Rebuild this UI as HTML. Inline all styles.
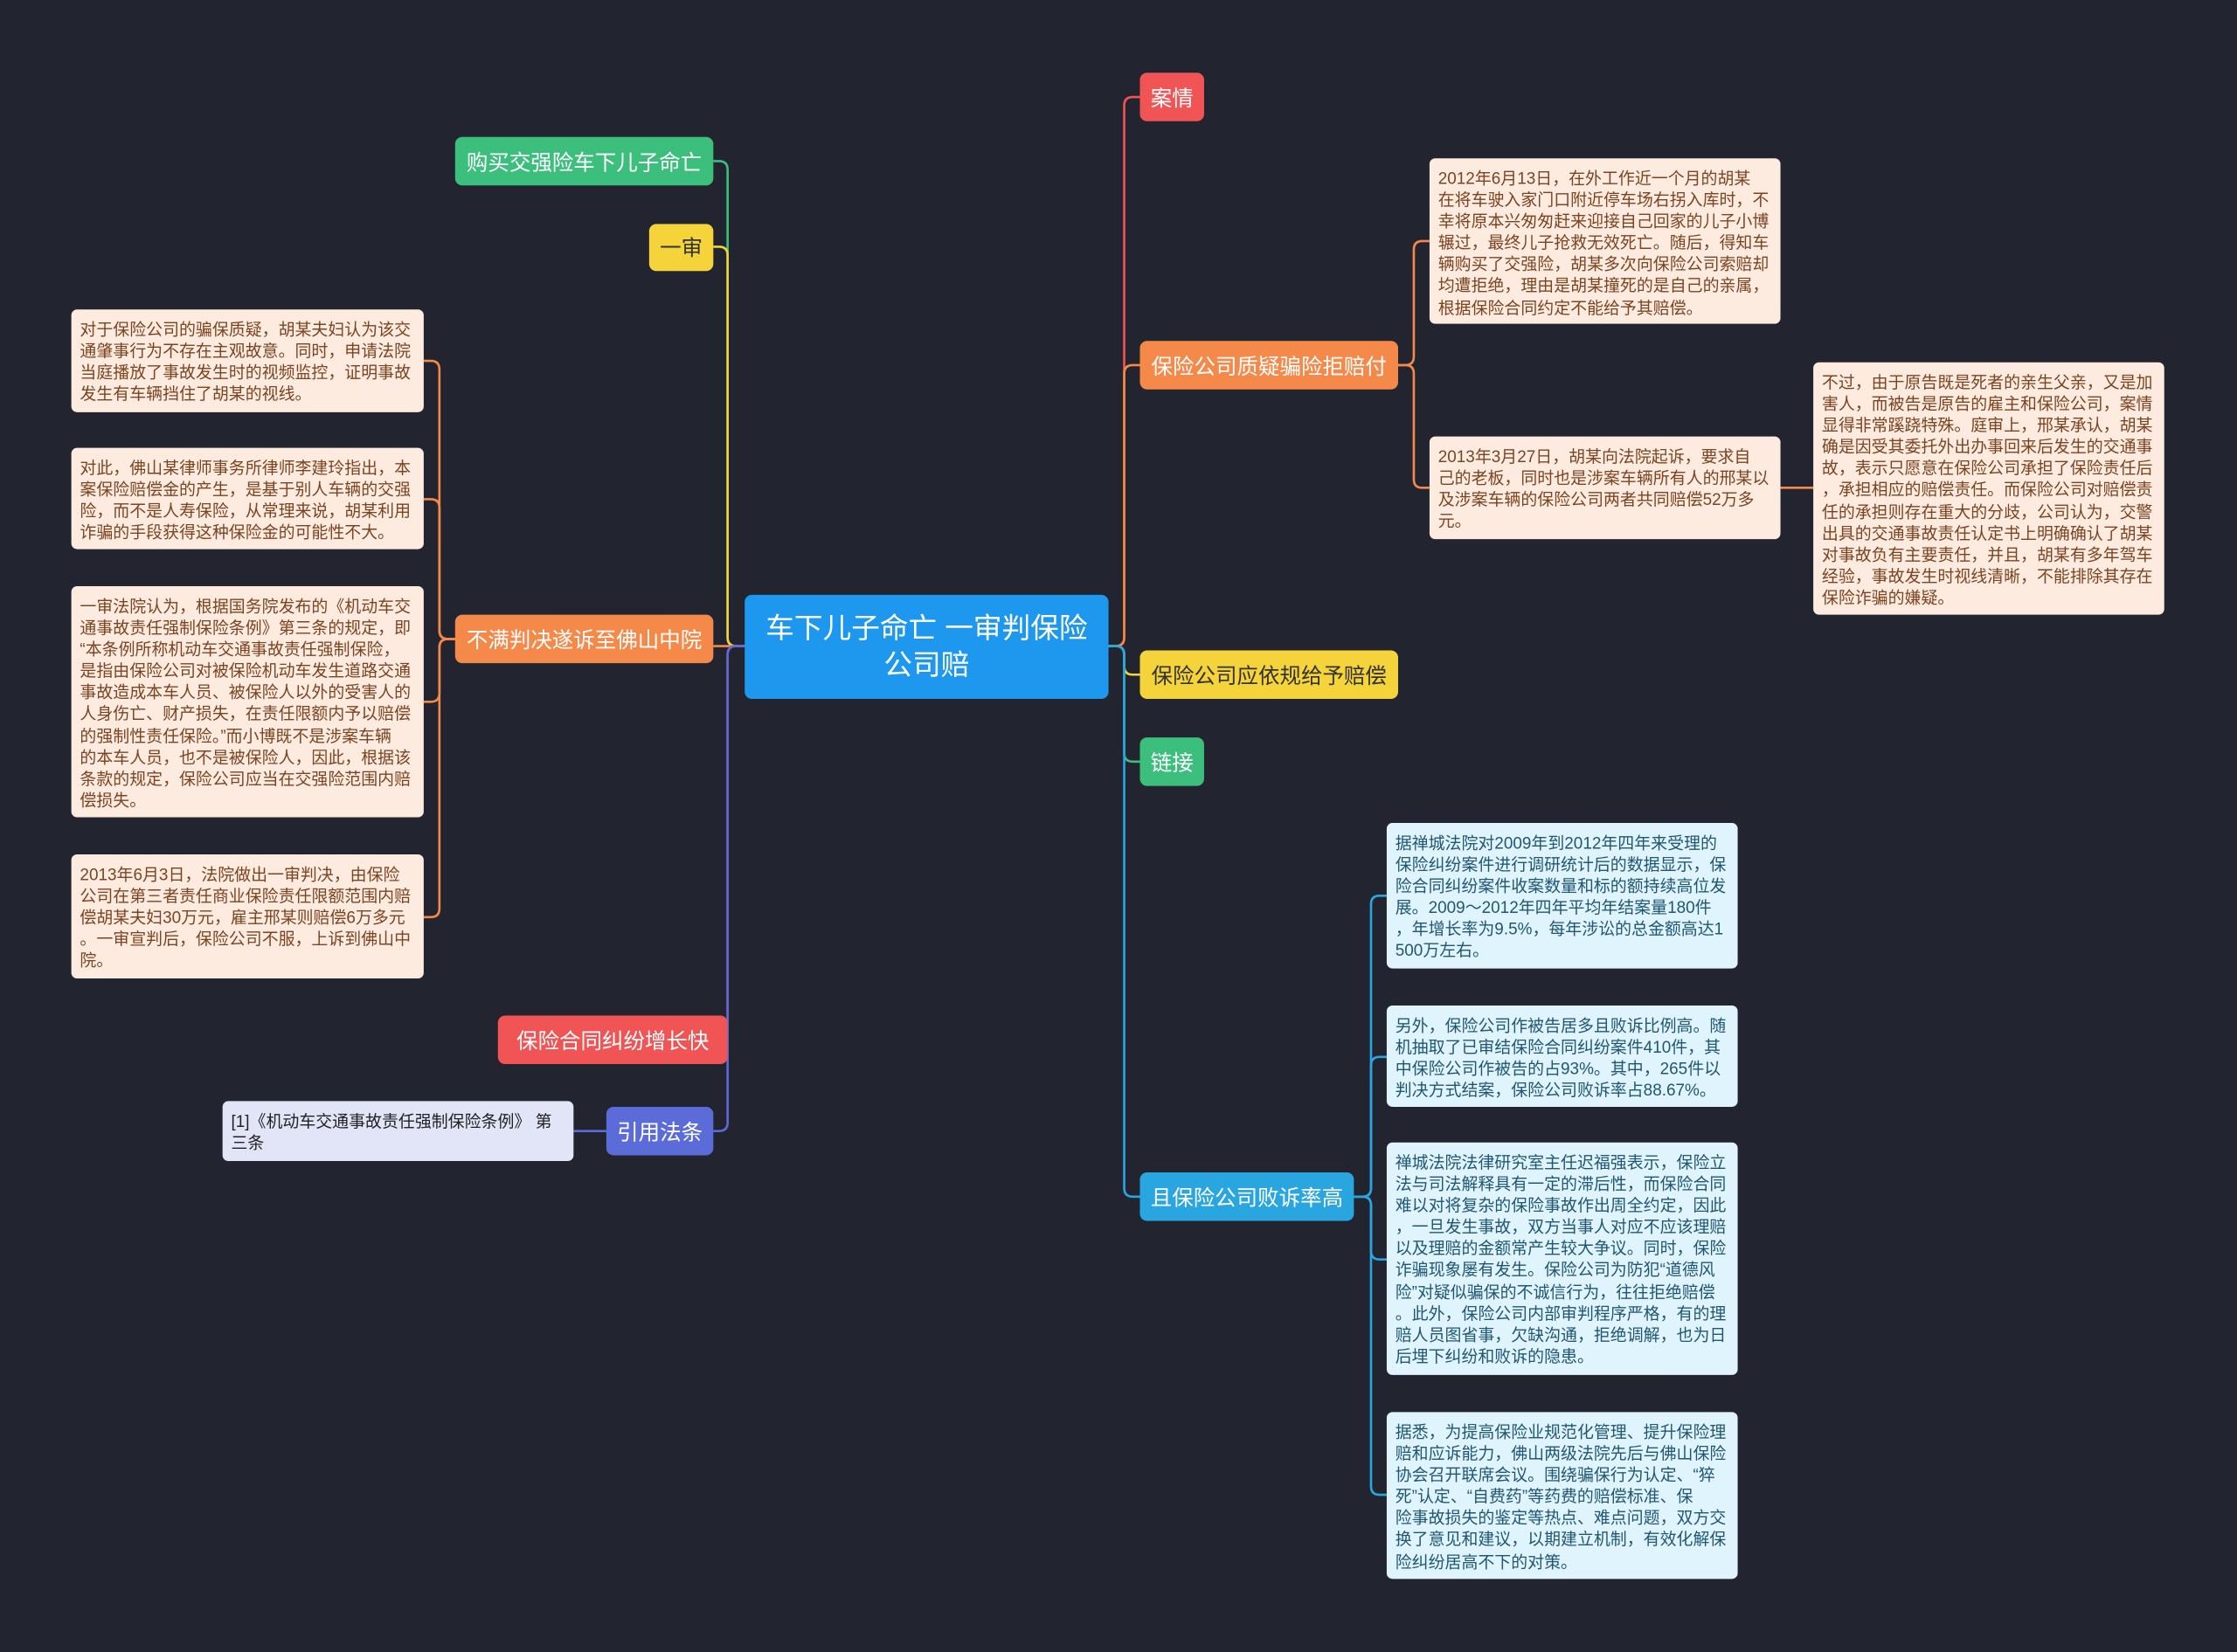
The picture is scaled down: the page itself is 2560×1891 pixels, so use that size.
<!DOCTYPE html>
<html><head><meta charset="utf-8"><style>
html,body{margin:0;padding:0;background:#22252f;width:2560px;height:1891px;overflow:hidden}
#c{position:absolute;left:0;top:0;width:1568px;height:1158px;transform:scale(1.632653);transform-origin:0 0;font-family:"Liberation Sans","Noto Sans CJK SC",sans-serif}
.n{position:absolute;border-radius:5px;color:#fff;font-size:15px;display:flex;align-items:center;justify-content:center;white-space:nowrap;box-sizing:border-box}
.l{position:absolute;border-radius:4px;font-size:11.6px;line-height:15.1px;padding:7px 6px 5px;box-sizing:border-box;white-space:nowrap;color:#7b4421;background:#fdebe0}
.b{background:#e0f4fd;color:#1f5672}
svg{position:absolute;left:0;top:0}
</style></head><body><div id="c">
<svg width="1568" height="1158" fill="none" stroke-width="1.6">
<path d="M522 453 H516 Q510 453 510 447 V119 Q510 113 504 113 H500" stroke="#3cbf7c"/>
<path d="M522 453 H516 Q510 453 510 447 V179 Q510 173 504 173 H500" stroke="#f5d33a"/>
<path d="M522 453 H500" stroke="#f5894a"/>
<path d="M522 453 H516 Q510 453 510 459 V723 Q510 729 504 729 H510" stroke="#f05454"/>
<path d="M522 453 H516 Q510 453 510 459 V787 Q510 793 504 793 H500" stroke="#5b6bd8"/>
<path d="M777 453 H782 Q788 453 788 447 V74 Q788 68 794 68 H799" stroke="#f05454"/>
<path d="M777 453 H782 Q788 453 788 447 V262 Q788 256 794 256 H799" stroke="#f5894a"/>
<path d="M777 453 H782 Q788 453 788 459 V467 Q788 473 794 473 H799" stroke="#f5d33a"/>
<path d="M777 453 H782 Q788 453 788 459 V528 Q788 534 794 534 H799" stroke="#3cbf7c"/>
<path d="M777 453 H782 Q788 453 788 459 V833 Q788 839 794 839 H799" stroke="#29a6e0"/>
<g stroke="#f5894a">
<path d="M319 448 H314 Q308 448 308 442 V259 Q308 253 302 253 H297"/>
<path d="M319 448 H314 Q308 448 308 442 V356 Q308 350 302 350 H297"/>
<path d="M319 448 H314 Q308 448 308 454 V486 Q308 492 302 492 H297"/>
<path d="M319 448 H314 Q308 448 308 454 V637 Q308 643 302 643 H297"/>
<path d="M980 256 H985 Q991 256 991 250 V175 Q991 169 997 169 H1002"/>
<path d="M980 256 H985 Q991 256 991 262 V336 Q991 342 997 342 H1002"/>
<path d="M1248 342 H1271"/>
</g>
<g stroke="#29a6e0">
<path d="M949 839 H955 Q961 839 961 833 V634 Q961 628 967 628 H972"/>
<path d="M949 839 H955 Q961 839 961 833 V747 Q961 741 967 741 H972"/>
<path d="M949 839 H955 Q961 839 961 845 V877 Q961 883 967 883 H972"/>
<path d="M949 839 H955 Q961 839 961 845 V1042 Q961 1048 967 1048 H972"/>
</g>
<path d="M425 793 H402" stroke="#5b6bd8"/>
</svg>

<div class="n" style="left:522px;top:417px;width:255px;height:73px;background:#1e98ee;font-size:20px;line-height:26px;white-space:normal;text-align:center;padding:0 12px">车下儿子命亡 一审判保险公司赔</div>

<div class="n" style="left:319px;top:96px;width:181px;height:34px;background:#3cbf7c">购买交强险车下儿子命亡</div>
<div class="n" style="left:455px;top:157px;width:45px;height:33px;background:#f5d33a;color:#333">一审</div>
<div class="n" style="left:319px;top:431px;width:181px;height:34px;background:#f5894a">不满判决遂诉至佛山中院</div>
<div class="n" style="left:349px;top:712px;width:161px;height:34px;background:#f05454">保险合同纠纷增长快</div>
<div class="n" style="left:425px;top:776px;width:75px;height:34px;background:#5b6bd8">引用法条</div>

<div class="n" style="left:799px;top:51px;width:45px;height:34px;background:#f05454">案情</div>
<div class="n" style="left:799px;top:239px;width:181px;height:34px;background:#f5894a">保险公司质疑骗险拒赔付</div>
<div class="n" style="left:799px;top:456px;width:181px;height:34px;background:#f5d33a;color:#333">保险公司应依规给予赔偿</div>
<div class="n" style="left:799px;top:517px;width:45px;height:34px;background:#3cbf7c">链接</div>
<div class="n" style="left:799px;top:822px;width:150px;height:34px;background:#29a6e0">且保险公司败诉率高</div>

<div class="l" style="left:50px;top:217px;width:247px;height:72px">对于保险公司的骗保质疑，胡某夫妇认为该交<br>通肇事行为不存在主观故意。同时，申请法院<br>当庭播放了事故发生时的视频监控，证明事故<br>发生有车辆挡住了胡某的视线。</div>
<div class="l" style="left:50px;top:314px;width:247px;height:71px">对此，佛山某律师事务所律师李建玲指出，本<br>案保险赔偿金的产生，是基于别人车辆的交强<br>险，而不是人寿保险，从常理来说，胡某利用<br>诈骗的手段获得这种保险金的可能性不大。</div>
<div class="l" style="left:50px;top:411px;width:247px;height:162px">一审法院认为，根据国务院发布的《机动车交<br>通事故责任强制保险条例》第三条的规定，即<br>“本条例所称机动车交通事故责任强制保险，<br>是指由保险公司对被保险机动车发生道路交通<br>事故造成本车人员、被保险人以外的受害人的<br>人身伤亡、财产损失，在责任限额内予以赔偿<br>的强制性责任保险。”而小博既不是涉案车辆<br>的本车人员，也不是被保险人，因此，根据该<br>条款的规定，保险公司应当在交强险范围内赔<br>偿损失。</div>
<div class="l" style="left:50px;top:599px;width:247px;height:87px">2013年6月3日，法院做出一审判决，由保险<br>公司在第三者责任商业保险责任限额范围内赔<br>偿胡某夫妇30万元，雇主邢某则赔偿6万多元<br>。一审宣判后，保险公司不服，上诉到佛山中<br>院。</div>
<div class="l" style="left:156px;top:772px;width:246px;height:42px;background:#e2e5f7;color:#222">[1]《机动车交通事故责任强制保险条例》 第<br>三条</div>

<div class="l" style="left:1002px;top:111px;width:246px;height:116px">2012年6月13日，在外工作近一个月的胡某<br>在将车驶入家门口附近停车场右拐入库时，不<br>幸将原本兴匆匆赶来迎接自己回家的儿子小博<br>辗过，最终儿子抢救无效死亡。随后，得知车<br>辆购买了交强险，胡某多次向保险公司索赔却<br>均遭拒绝，理由是胡某撞死的是自己的亲属，<br>根据保险合同约定不能给予其赔偿。</div>
<div class="l" style="left:1002px;top:306px;width:246px;height:72px">2013年3月27日，胡某向法院起诉，要求自<br>己的老板，同时也是涉案车辆所有人的邢某以<br>及涉案车辆的保险公司两者共同赔偿52万多<br>元。</div>
<div class="l" style="left:1271px;top:254px;width:246px;height:177px">不过，由于原告既是死者的亲生父亲，又是加<br>害人，而被告是原告的雇主和保险公司，案情<br>显得非常蹊跷特殊。庭审上，邢某承认，胡某<br>确是因受其委托外出办事回来后发生的交通事<br>故，表示只愿意在保险公司承担了保险责任后<br>，承担相应的赔偿责任。而保险公司对赔偿责<br>任的承担则存在重大的分歧，公司认为，交警<br>出具的交通事故责任认定书上明确确认了胡某<br>对事故负有主要责任，并且，胡某有多年驾车<br>经验，事故发生时视线清晰，不能排除其存在<br>保险诈骗的嫌疑。</div>

<div class="l b" style="left:972px;top:577px;width:246px;height:102px">据禅城法院对2009年到2012年四年来受理的<br>保险纠纷案件进行调研统计后的数据显示，保<br>险合同纠纷案件收案数量和标的额持续高位发<br>展。2009～2012年四年平均年结案量180件<br>，年增长率为9.5%，每年涉讼的总金额高达1<br>500万左右。</div>
<div class="l b" style="left:972px;top:705px;width:246px;height:71px">另外，保险公司作被告居多且败诉比例高。随<br>机抽取了已审结保险合同纠纷案件410件，其<br>中保险公司作被告的占93%。其中，265件以<br>判决方式结案，保险公司败诉率占88.67%。</div>
<div class="l b" style="left:972px;top:801px;width:246px;height:163px">禅城法院法律研究室主任迟福强表示，保险立<br>法与司法解释具有一定的滞后性，而保险合同<br>难以对将复杂的保险事故作出周全约定，因此<br>，一旦发生事故，双方当事人对应不应该理赔<br>以及理赔的金额常产生较大争议。同时，保险<br>诈骗现象屡有发生。保险公司为防犯“道德风<br>险”对疑似骗保的不诚信行为，往往拒绝赔偿<br>。此外，保险公司内部审判程序严格，有的理<br>赔人员图省事，欠缺沟通，拒绝调解，也为日<br>后埋下纠纷和败诉的隐患。</div>
<div class="l b" style="left:972px;top:990px;width:246px;height:117px">据悉，为提高保险业规范化管理、提升保险理<br>赔和应诉能力，佛山两级法院先后与佛山保险<br>协会召开联席会议。围绕骗保行为认定、“猝<br>死”认定、“自费药”等药费的赔偿标准、保<br>险事故损失的鉴定等热点、难点问题，双方交<br>换了意见和建议，以期建立机制，有效化解保<br>险纠纷居高不下的对策。</div>
</div></body></html>
